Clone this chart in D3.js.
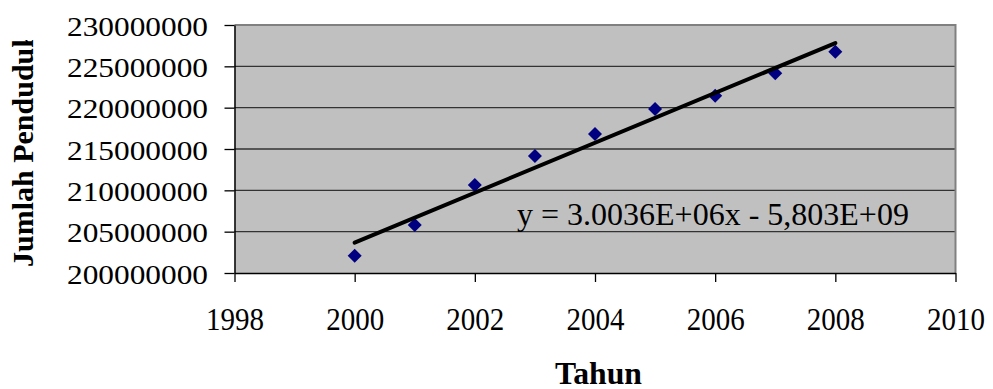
<!DOCTYPE html>
<html>
<head>
<meta charset="utf-8">
<script src="https://cdn.jsdelivr.net/npm/d3@7"></script>
<style>
html,body{margin:0;padding:0;background:#fff;}
svg{display:block;}
text{font-family:"Liberation Serif","Times New Roman",serif;fill:#000;}
</style>
</head>
<body>
<svg id="chart" width="993" height="389"></svg>
<script>
const years = [2000, 2001, 2002, 2003, 2004, 2005, 2006, 2007, 2008];
const population = [202090000, 205810000, 210640000, 214150000, 216810000, 219840000, 221450000, 224160000, 226770000];
const yTicks = [200000000, 205000000, 210000000, 215000000, 220000000, 225000000, 230000000];
const xTicks = [1998, 2000, 2002, 2004, 2006, 2008, 2010];
const equationLabel = "y = 3.0036E+06x - 5,803E+09";
const xTitle = "Tahun";
const yTitle = "Jumlah Penduduk";

const svg = d3.select("#chart");
const x = d3.scaleLinear().domain([1998, 2010]).range([234.5, 955.5]);
const y = d3.scaleLinear().domain([200000000, 230000000]).range([273, 25]);

// plot area
svg.append("rect")
  .attr("x", x(1998)).attr("y", y(230000000))
  .attr("width", x(2010) - x(1998)).attr("height", y(200000000) - y(230000000))
  .attr("fill", "#c0c0c0");

// gridlines
svg.append("g").selectAll("line")
  .data(yTicks.filter(d => d > 200000000 && d < 230000000))
  .join("line")
  .attr("x1", x(1998)).attr("x2", x(2010))
  .attr("y1", d => y(d)).attr("y2", d => y(d))
  .attr("stroke", "#333").attr("stroke-width", 1.4);

// top and right border
svg.append("path")
  .attr("d", `M${x(1998)},${y(230000000)}H${x(2010)}V${y(200000000)}`)
  .attr("fill", "none").attr("stroke", "#808080").attr("stroke-width", 2);

// markers
svg.append("g").selectAll("path")
  .data(years.map((yr, i) => [yr, population[i]]))
  .join("path")
  .attr("d", d3.symbol(d3.symbolSquare, 98))
  .attr("transform", d => `translate(${x(d[0])},${y(d[1])}) rotate(45)`)
  .attr("fill", "#000080");

// linear trend (least squares)
const mx = d3.mean(years), my = d3.mean(population);
const slope = d3.sum(years, (yr, i) => (yr - mx) * (population[i] - my)) / d3.sum(years, yr => (yr - mx) ** 2);
const intercept = my - slope * mx;
const trendX = [d3.min(years), d3.max(years)];
svg.append("path")
  .datum(trendX.map(t => [t, slope * t + intercept]))
  .attr("d", d3.line().x(d => x(d[0])).y(d => y(d[1])))
  .attr("fill", "none").attr("stroke", "#000").attr("stroke-width", 4)
  .attr("stroke-linecap", "round");

// axes
const yAxis = svg.append("g")
  .attr("transform", `translate(${x(1998)},0)`)
  .call(d3.axisLeft(y).tickValues(yTicks).tickSize(10).tickSizeOuter(0).tickFormat(d3.format("d")));
yAxis.attr("font-family", null);
yAxis.select(".domain").attr("stroke", "#000").attr("stroke-width", 1.5);
yAxis.selectAll(".tick line").attr("stroke", "#000").attr("stroke-width", 1.3);
yAxis.selectAll(".tick text")
  .attr("x", -26.5).attr("dy", 10)
  .attr("font-size", 27)
  .attr("textLength", 141).attr("lengthAdjust", "spacingAndGlyphs");

const xAxis = svg.append("g")
  .attr("transform", `translate(0,${y(200000000)})`)
  .call(d3.axisBottom(x).tickValues(xTicks).tickSize(9).tickSizeOuter(0).tickFormat(d3.format("d")));
xAxis.attr("font-family", null);
xAxis.select(".domain").attr("stroke", "#000").attr("stroke-width", 1.5);
xAxis.selectAll(".tick line").attr("stroke", "#000").attr("stroke-width", 1.3);
xAxis.selectAll(".tick text")
  .attr("y", 57).attr("dy", 0)
  .attr("font-size", 32)
  .attr("textLength", 58).attr("lengthAdjust", "spacingAndGlyphs");
svg.selectAll(".tick text").attr("fill", "#000");

// equation
svg.append("text")
  .attr("x", 517).attr("y", 225)
  .attr("font-size", 32)
  .text(equationLabel);

// x title
svg.append("text")
  .attr("x", 598.5).attr("y", 384)
  .attr("text-anchor", "middle")
  .attr("font-size", 31).attr("font-weight", "bold")
  .attr("textLength", 87).attr("lengthAdjust", "spacingAndGlyphs")
  .text(xTitle);

// y title (clipped at top like the reference)
svg.append("clipPath").attr("id", "ytclip")
  .append("rect").attr("x", 0).attr("y", 40).attr("width", 60).attr("height", 349);
svg.append("g")
  .attr("clip-path", "url(#ytclip)")
  .append("text")
  .attr("transform", `translate(33,${(y(200000000) + y(230000000)) / 2}) rotate(-90)`)
  .attr("text-anchor", "middle")
  .attr("font-size", 30).attr("font-weight", "bold")
  .text(yTitle);
</script>
</body>
</html>
